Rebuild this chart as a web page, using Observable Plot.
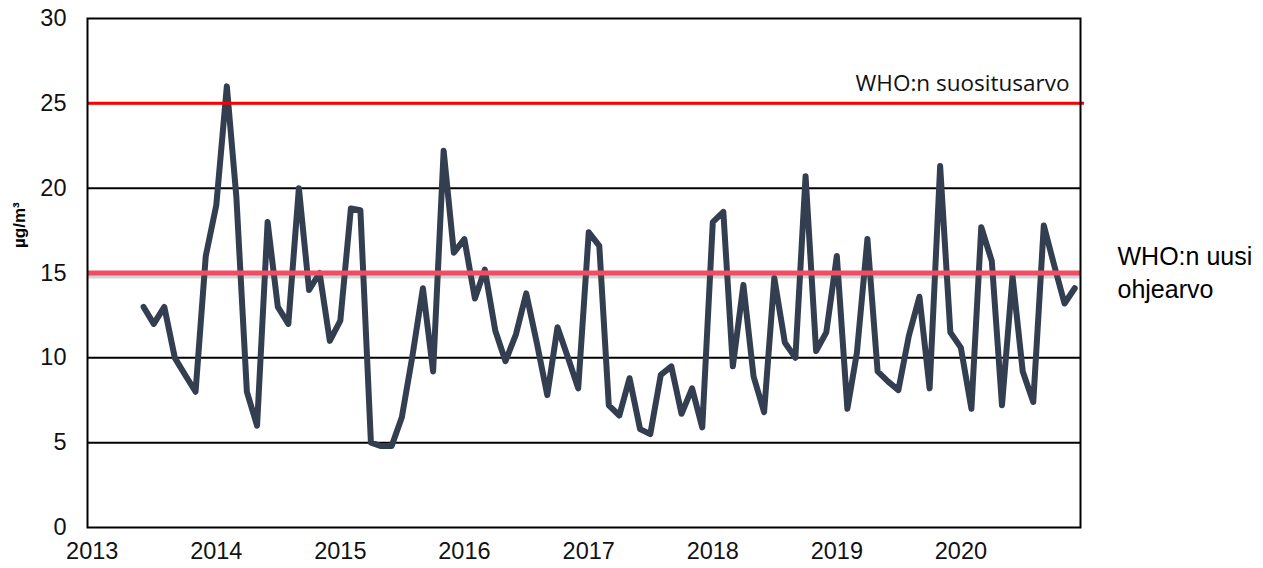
<!DOCTYPE html>
<html>
<head>
<meta charset="utf-8">
<script src="https://cdn.jsdelivr.net/npm/d3@7"></script>
<script src="https://cdn.jsdelivr.net/npm/@observablehq/plot@0.6"></script>
<style>
  html, body { margin: 0; padding: 0; background: #fff; }
  #chart svg { display: block; }
</style>
</head>
<body>
<div id="chart"></div>
<script>
// ---- data ----
const yearTicks = [2013, 2014, 2015, 2016, 2017, 2018, 2019, 2020];
const yTicks = [0, 5, 10, 15, 20, 25, 30];
const gridValues = [5, 10, 15, 20, 25];
const startYear = 2013;
const startMonthIndex = 5; // June 2013
const monthlyValues = [
  // 2013 Jun-Dec
  13, 12, 13, 10, 9, 8, 16,
  // 2014
  19, 26, 19.5, 8, 6, 18, 13, 12, 20, 14, 15, 11,
  // 2015
  12.2, 18.8, 18.7, 5.0, 4.8, 4.8, 6.5, 10.1, 14.1, 9.2, 22.2, 16.2,
  // 2016
  17, 13.5, 15.2, 11.6, 9.8, 11.4, 13.8, 10.9, 7.8, 11.8, 10.0, 8.2,
  // 2017
  17.4, 16.6, 7.2, 6.6, 8.8, 5.8, 5.5, 9.0, 9.5, 6.7, 8.2, 5.9,
  // 2018
  18.0, 18.6, 9.5, 14.3, 8.9, 6.8, 14.7, 10.9, 10.0, 20.7, 10.4, 11.5,
  // 2019
  16.0, 7.0, 10.3, 17.0, 9.2, 8.6, 8.1, 11.3, 13.6, 8.2, 21.3, 11.5,
  // 2020
  10.6, 7.0, 17.7, 15.7, 7.2, 14.8, 9.2, 7.4, 17.8, 15.5, 13.2, 14.1
];
const whoOldValue = 25;
const whoNewValue = 15;
const whoOldLabel = "WHO:n suositusarvo";
const whoNewLabel = "WHO:n uusi\nohjearvo";
const yLabel = "µg/m³";

// ---- build ----
const data = monthlyValues.map((v, i) => ({
  date: new Date(Date.UTC(startYear, startMonthIndex + i, 1)),
  value: v
}));
const tickDates = yearTicks.map(y => new Date(Date.UTC(y, 0, 1)));

const chart = Plot.plot({
  width: 1263,
  height: 568,
  marginLeft: 87,
  marginRight: 183,
  marginTop: 18,
  marginBottom: 41,
  style: { background: "#fff", fontFamily: "'Liberation Sans', Arial, sans-serif", color: "#111" },
  x: { type: "utc", domain: [new Date(Date.UTC(2012, 11, 18)), new Date(Date.UTC(2020, 11, 18))] },
  y: { domain: [0, 30] },
  marks: [
    Plot.ruleY(gridValues, { stroke: "#000", strokeWidth: 2 }),
    Plot.lineY(data, {
      x: "date", y: "value",
      stroke: "#333f50", strokeWidth: 6,
      strokeLinejoin: "round", strokeLinecap: "round"
    }),
    Plot.ruleY([whoNewValue], { dy: 3, stroke: "#555", strokeOpacity: 0.25, strokeWidth: 5 }),
    Plot.ruleY([whoNewValue], { stroke: "#f24c64", strokeWidth: 5 }),
    Plot.ruleY([whoOldValue], { stroke: "#ff0000", strokeWidth: 3, insetRight: -4 }),
    Plot.frame({ stroke: "#000", strokeWidth: 2 }),
    Plot.axisY(yTicks, { tickSize: 0, tickPadding: 21, fontSize: 23.5, label: null }),
    Plot.axisX(tickDates, {
      tickSize: 0, tickPadding: 15, fontSize: 23.5, label: null,
      tickFormat: d3.utcFormat("%Y")
    }),
    Plot.text([yLabel], {
      text: d => d, frameAnchor: "left", dx: -68, dy: -25, rotate: -90,
      fontWeight: "bold", fontSize: 17, fill: "#000"
    }),
    Plot.text([whoOldLabel], {
      text: d => d, y: [whoOldValue], frameAnchor: "right", textAnchor: "end",
      lineAnchor: "bottom", dx: -11, dy: -12,
      fontFamily: "'Open Sans', sans-serif", fontSize: 22.5, fill: "#111"
    }),
    Plot.text([whoNewLabel], {
      text: d => d, y: [whoNewValue], frameAnchor: "right", textAnchor: "start",
      lineAnchor: "middle", lineHeight: 1.32, dx: 37, dy: -2,
      fontSize: 25, fill: "#000"
    })
  ]
});
document.getElementById("chart").appendChild(chart);
</script>
</body>
</html>
